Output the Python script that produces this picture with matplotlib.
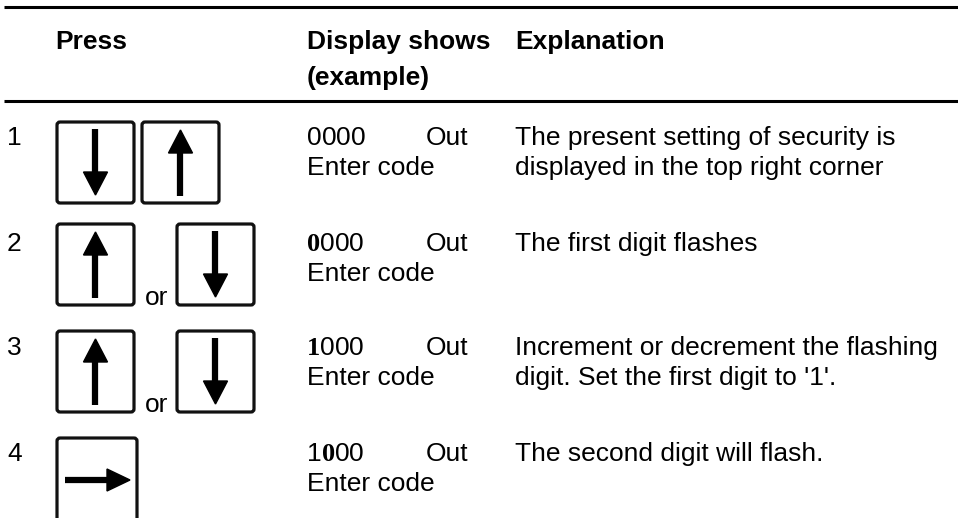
from matplotlib import pyplot as plt
from matplotlib.patches import FancyBboxPatch, Polygon

# table contents
headers = ["Press", "Display shows", "Explanation"]
header2 = "(example)"
row_numbers = ["1", "2", "3", "4"]
press_keys = [["down", "up"], ["up", "down"], ["up", "down"], ["right"]]
press_sep = ["", "or", "or", ""]
display_digits = ["0000", "0000", "1000", "1000"]
bold_digit = [None, 0, 0, 1]          # index of the flashing digit
display_status = ["Out", "Out", "Out", "Out"]
display_line2 = ["Enter code", "Enter code", "Enter code", "Enter code"]
explanations = [
    ["The present setting of security is", "displayed in the top right corner"],
    ["The first digit flashes"],
    ["Increment or decrement the flashing", "digit. Set the first digit to '1'."],
    ["The second digit will flash."],
]

# layout (pixels)
W, H = 958, 518
row_base = [145, 251, 355, 461]
box_top = [122, 224, 331, 438]
line_gap = 30
fs = 19
sans = "Liberation Sans"
serif = "Liberation Serif"

fig = plt.figure(figsize=(W / 100, H / 100), dpi=100)
ax = fig.add_axes([0, 0, 1, 1])
ax.set_xlim(0, W)
ax.set_ylim(H, 0)
ax.axis("off")

# rules
ax.plot([4, W], [7, 7], color="black", lw=2.2, solid_capstyle="butt")
ax.plot([4, W], [101, 101], color="black", lw=2.2, solid_capstyle="butt")

# headers
ax.text(55, 49, headers[0], fontsize=fs, fontweight="bold", family=sans, va="baseline")
ax.text(307, 49, headers[1], fontsize=fs, fontweight="bold", family=sans, va="baseline")
ax.text(307, 85, header2, fontsize=fs, fontweight="bold", family=sans, va="baseline")
ax.text(515, 49, headers[2], fontsize=fs, fontweight="bold", family=sans, va="baseline")


def draw_key(x0, y0, kind, w=77, h=81):
    ax.add_patch(FancyBboxPatch((x0, y0), w, h, boxstyle="round,pad=0,rounding_size=3",
                                fc="white", ec="#111111", lw=2.3))
    cx = x0 + w / 2
    cy = y0 + h / 2
    hw = 12
    if kind == "down":
        ax.plot([cx, cx], [y0 + 7, y0 + 52], color="black", lw=4.5, solid_capstyle="butt")
        ax.add_patch(Polygon([(cx - hw, y0 + 50), (cx + hw, y0 + 50), (cx, y0 + 73)], color="black"))
    elif kind == "up":
        ax.plot([cx, cx], [y0 + 29, y0 + 74], color="black", lw=4.5, solid_capstyle="butt")
        ax.add_patch(Polygon([(cx - hw, y0 + 31), (cx + hw, y0 + 31), (cx, y0 + 8)], color="black"))
    else:
        ax.plot([x0 + 8, x0 + 52], [cy, cy], color="black", lw=4.5, solid_capstyle="butt")
        ax.add_patch(Polygon([(x0 + 50, cy - 11), (x0 + 50, cy + 11), (x0 + 73, cy)], color="black"))


renderer = fig.canvas.get_renderer()

for i in range(len(row_numbers)):
    yb = row_base[i]
    ax.text(7, yb, row_numbers[i], fontsize=fs, family=sans, va="baseline")

    # keys
    top = box_top[i]
    keys = press_keys[i]
    if len(keys) == 1:
        draw_key(57, top, keys[0], w=80, h=84)
    elif press_sep[i]:
        draw_key(57, top, keys[0])
        ax.text(145, top + 81, press_sep[i], fontsize=fs, family=sans, va="baseline")
        draw_key(177, top, keys[1])
    else:
        draw_key(57, top, keys[0])
        draw_key(142, top, keys[1])

    # display column: digits with the flashing one in bold serif
    x = 307
    for j, d in enumerate(display_digits[i]):
        if bold_digit[i] == j:
            t = ax.text(x, yb, d, fontsize=fs, family=serif, fontweight="bold", va="baseline")
        else:
            t = ax.text(x, yb, d, fontsize=fs, family=sans, va="baseline")
        x += t.get_window_extent(renderer).width
    ax.text(426, yb, display_status[i], fontsize=fs, family=sans, va="baseline")
    ax.text(307, yb + line_gap, display_line2[i], fontsize=fs, family=sans, va="baseline")

    for k, line in enumerate(explanations[i]):
        ax.text(515, yb + k * line_gap, line, fontsize=fs, family=sans, va="baseline")

fig.savefig("out.png", dpi=100, facecolor="white")
